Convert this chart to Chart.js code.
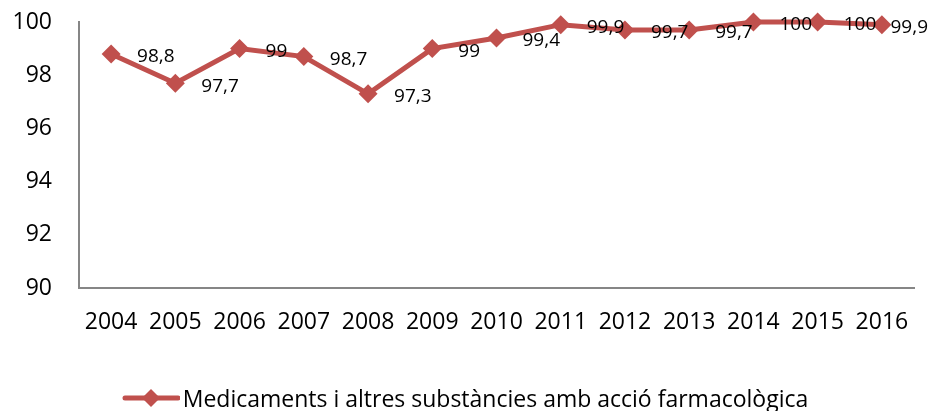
<!DOCTYPE html>
<html>
<head>
<meta charset="utf-8">
<script src="https://cdn.jsdelivr.net/npm/chart.js@4.4.0/dist/chart.umd.min.js"></script>
<style>
  html, body { margin: 0; padding: 0; background: #fff; }
  .wrap { position: relative; width: 930px; height: 411px; }
  .legend {
    position: absolute; left: 0; right: 0; top: 382px;
    display: flex; justify-content: center; align-items: center;
    font-family: "Open Sans", sans-serif; font-size: 23px; color: #000;
  }
  .legend svg { margin-right: 3px; }
</style>
</head>
<body>
<div class="wrap">
  <canvas id="chart" width="930" height="411"></canvas>
  <div class="legend">
    <svg width="58" height="22" viewBox="0 0 58 22">
      <line x1="3" y1="11" x2="56" y2="11" stroke="#C0504D" stroke-width="5" stroke-linecap="round"/>
      <polygon points="29,2 38,11 29,20 20,11" fill="#C0504D"/>
    </svg>
    <span>Medicaments i altres substàncies amb acció farmacològica</span>
  </div>
</div>
<script>
const years = ['2004', '2005', '2006', '2007', '2008', '2009', '2010', '2011', '2012', '2013', '2014', '2015', '2016'];
const values = [98.8, 97.7, 99, 98.7, 97.3, 99, 99.4, 99.9, 99.7, 99.7, 100, 100, 99.9];
const seriesName = 'Medicaments i altres substàncies amb acció farmacològica';
const yTicks = [90, 92, 94, 96, 98, 100];

const lineColor = '#C0504D';
const axisColor = '#868686';

// value labels to the right of each marker, comma decimals
const valueLabels = {
  id: 'valueLabels',
  afterDatasetsDraw(chart) {
    const ctx = chart.ctx;
    const meta = chart.getDatasetMeta(0);
    ctx.save();
    ctx.font = '19px "Open Sans", sans-serif';
    ctx.fillStyle = '#000';
    ctx.textAlign = 'left';
    ctx.textBaseline = 'middle';
    meta.data.forEach((pt, i) => {
      const txt = String(values[i]).replace('.', ',');
      const w = ctx.measureText(txt).width;
      const x = Math.min(pt.x + 26, chart.width - w - 2);
      ctx.fillText(txt, x, pt.y + 3);
    });
    ctx.restore();
  }
};

new Chart(document.getElementById('chart').getContext('2d'), {
  type: 'line',
  data: {
    labels: years,
    datasets: [{
      label: seriesName,
      data: values,
      borderColor: lineColor,
      backgroundColor: lineColor,
      borderWidth: 5,
      pointStyle: 'rectRot',
      pointRadius: 9.5,
      pointHoverRadius: 9.5,
      pointBorderWidth: 0,
      tension: 0,
      clip: false
    }]
  },
  options: {
    responsive: false,
    animation: false,
    layout: { padding: { left: 0, right: 16, top: 22, bottom: 73 } },
    plugins: {
      legend: { display: false },
      tooltip: { enabled: false }
    },
    scales: {
      x: {
        offset: true,
        grid: { display: false, drawTicks: false },
        border: { color: axisColor, width: 2 },
        ticks: {
          color: '#000',
          padding: 21,
          maxRotation: 0,
          autoSkip: false,
          font: { family: '"Open Sans", sans-serif', size: 23 }
        },
        afterFit: (scale) => { scale.height = 50; }
      },
      y: {
        min: 90,
        max: 100,
        afterBuildTicks: (scale) => { scale.ticks = yTicks.map(v => ({ value: v })); },
        grid: { display: false, drawTicks: false },
        border: { color: axisColor, width: 2 },
        ticks: {
          color: '#000',
          padding: 27,
          font: { family: '"Open Sans", sans-serif', size: 23 }
        },
        afterFit: (scale) => {
          scale.width = 79;
          scale.paddingTop = 0;
          scale.paddingBottom = 0;
        }
      }
    }
  },
  plugins: [valueLabels]
});
</script>
</body>
</html>
